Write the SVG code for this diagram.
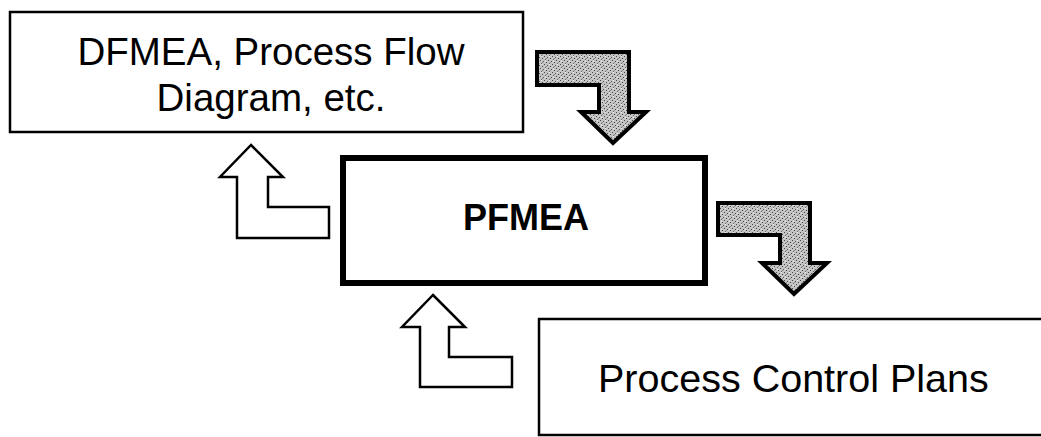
<svg xmlns="http://www.w3.org/2000/svg" width="1041" height="437" viewBox="0 0 1041 437">
<style>
.box{fill:#fff;stroke:#000;stroke-width:2.5}
.main{fill:#fff;stroke:#000;stroke-width:6}
.lbl{font-family:"Liberation Sans",Arial,sans-serif;fill:#000}
.garrow{fill:url(#stipple);stroke:#000;stroke-width:4;stroke-linejoin:miter}
.warrow{fill:#fff;stroke:#000;stroke-width:2.5;stroke-linejoin:miter}
</style>
<defs>
<pattern id="stipple" width="8" height="8" patternUnits="userSpaceOnUse">
<rect width="8" height="8" fill="#c4c4c4"/>
<rect x="0" y="0" width="1" height="1" fill="#444"/>
<rect x="3" y="1" width="1" height="1" fill="#555"/>
<rect x="6" y="2" width="1" height="1" fill="#444"/>
<rect x="1" y="3" width="1" height="1" fill="#666"/>
<rect x="4" y="4" width="1" height="1" fill="#444"/>
<rect x="7" y="5" width="1" height="1" fill="#555"/>
<rect x="2" y="6" width="1" height="1" fill="#444"/>
<rect x="5" y="7" width="1" height="1" fill="#666"/>
<rect x="5" y="0" width="1" height="1" fill="#eee"/>
<rect x="1" y="5" width="1" height="1" fill="#eee"/>
<rect x="6" y="6" width="1" height="1" fill="#888"/>
<rect x="2" y="2" width="1" height="1" fill="#888"/>
</pattern>
</defs>
<rect width="1041" height="437" fill="#fff"/>
<g id="node-inputs">
<rect class="box" x="10" y="12" width="513" height="120"/>
<text class="lbl" x="271" y="65" font-size="38.5" text-anchor="middle">DFMEA, Process Flow</text>
<text class="lbl" x="271" y="111" font-size="38.5" text-anchor="middle">Diagram, etc.</text>
</g>
<g id="node-pfmea">
<rect class="main" x="343" y="158" width="362" height="125"/>
<text class="lbl" x="526" y="230" font-size="36" font-weight="bold" text-anchor="middle">PFMEA</text>
</g>
<g id="node-control-plans">
<rect class="box" x="539" y="319" width="530" height="116"/>
<text class="lbl" x="598" y="392" font-size="39.5">Process Control Plans</text>
</g>
<g id="connectors">
<polygon class="garrow" points="537,52 629,52 629,112 646,112 613,143 581,112 599,112 599,85 537,85"/>
<polygon class="garrow" points="718,203 810,203 810,263 827,263 794,294 762,263 780,263 780,235 718,235"/>
<polygon class="warrow" points="251,145 283,177 268,177 268,207 329,207 329,238 237,238 237,177 220,177"/>
<polygon class="warrow" points="433,295 465,327 449,327 449,357 512,357 512,387 420,387 420,327 402,327"/>
</g>
</svg>
